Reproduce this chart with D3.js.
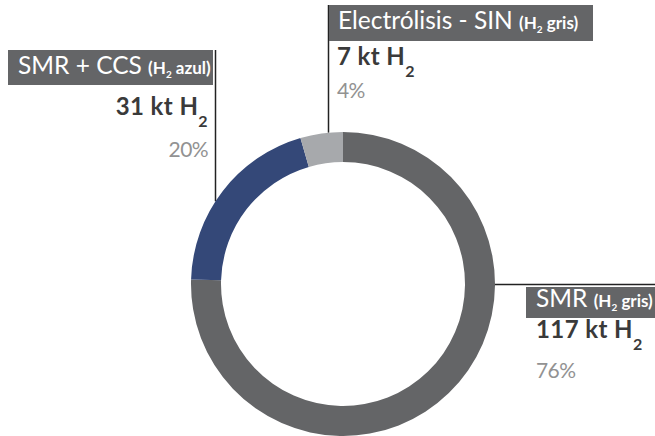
<!DOCTYPE html>
<html>
<head>
<meta charset="utf-8">
<script src="https://cdn.jsdelivr.net/npm/d3@7"></script>
<style>
body { margin: 0; background: #fff; }
text { font-family: Lato, "Open Sans", sans-serif; }
</style>
</head>
<body>
<div id="chart"></div>
<script>
// data
var categories = ["SMR", "SMR + CCS", "Electrólisis - SIN"];
var tags = ["gris", "azul", "gris"];
var amounts = [117, 31, 7];   // kt H2
var shares = [76, 20, 4];     // %
var colors = ["#646567", "#344878", "#a7a9ac"];

(function(){
    var width = 655, height = 436;
    var cx = 343, cy = 284, outer = 152, inner = 122;

    var svg = d3.select("#chart").append("svg")
        .attr("width", width)
        .attr("height", height);

    var rows = categories.map(function(c, i){
        return {name: c, tag: tags[i], kt: amounts[i], pct: shares[i], color: colors[i]};
    });

    var pie = d3.pie().sort(null).value(function(d){ return d.kt; });
    var arc = d3.arc().innerRadius(inner).outerRadius(outer);

    // label placement, one per category
    var layout = [
        {dir: "h", lx: 655, box: [526, 287, 129, 31], tx: 536, ty: 307, vx: 536, vy: 338, py: 378, anchor: "start"},
        {dir: "v", lx: 215.5, ly: 50, box: [8, 50, 205, 35], tx: 18, ty: 74, vx: 208, vy: 115, py: 157, anchor: "end"},
        {dir: "v", lx: 328.5, ly: 5, box: [329, 5, 264, 36], tx: 338, ty: 29, vx: 337, vy: 65, py: 98, anchor: "start"}
    ];

    // leader lines
    layout.forEach(function(l){
        var x1, y1, x2, y2;
        if (l.dir === "h") {
            x1 = cx + outer; y1 = cy + 0.5; x2 = l.lx; y2 = y1;
        } else {
            x1 = l.lx; y1 = l.ly;
            x2 = l.lx; y2 = cy - Math.sqrt(outer * outer - (l.lx - cx) * (l.lx - cx));
        }
        svg.append("line")
            .attr("x1", x1).attr("y1", y1).attr("x2", x2).attr("y2", y2)
            .attr("stroke", "#222").attr("stroke-width", 1.5);
    });

    // ring
    svg.append("g")
        .attr("transform", "translate(" + cx + "," + cy + ")")
        .selectAll("path")
        .data(pie(rows))
        .enter().append("path")
        .attr("d", arc)
        .attr("fill", function(d){ return d.data.color; });

    // labels
    rows.forEach(function(d, i){
        var l = layout[i];
        var g = svg.append("g");
        g.append("rect")
            .attr("x", l.box[0]).attr("y", l.box[1])
            .attr("width", l.box[2]).attr("height", l.box[3])
            .attr("fill", "#646567");

        var t = g.append("text")
            .attr("x", l.tx).attr("y", l.ty)
            .attr("fill", "#fff")
            .style("font-size", "24.5px");
        t.append("tspan").text(d.name + " ");
        t.append("tspan").style("font-size", "17px").style("font-weight", 700).text("(H");
        t.append("tspan").style("font-size", "10px").style("font-weight", 700).attr("dy", 4).text("2");
        t.append("tspan").style("font-size", "17px").style("font-weight", 700).attr("dy", -4).text(" " + d.tag + ")");

        var v = g.append("text")
            .attr("x", l.vx).attr("y", l.vy)
            .attr("text-anchor", l.anchor)
            .attr("fill", "#3a3a3a")
            .style("font-size", "24px")
            .style("letter-spacing", "0.4px")
            .style("font-weight", 700);
        v.append("tspan").text(d.kt + " kt H");
        v.append("tspan").style("font-size", "16px").attr("dy", 12).text("2");

        g.append("text")
            .attr("x", l.vx).attr("y", l.py)
            .attr("text-anchor", l.anchor)
            .attr("fill", "#929292")
            .style("font-size", "21px")
            .style("letter-spacing", "-0.6px")
            .text(d.pct + "%");
    });
})();
</script>
</body>
</html>
